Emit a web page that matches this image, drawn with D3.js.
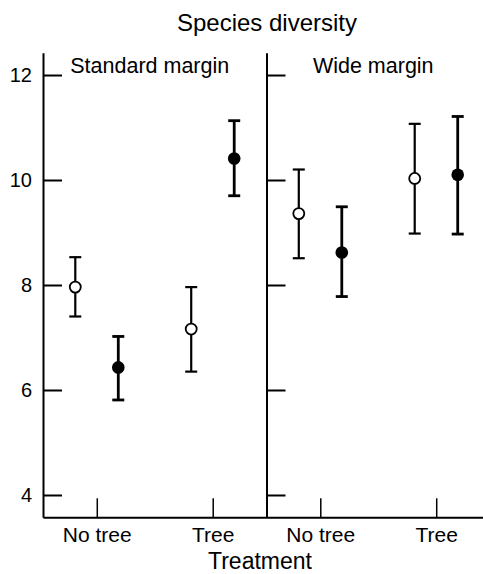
<!DOCTYPE html>
<html>
<head>
<meta charset="utf-8">
<script src="https://cdn.jsdelivr.net/npm/d3@7"></script>
<style>
  body { margin: 0; background: #fff; }
  svg { display: block; font-family: "Liberation Sans", Arial, sans-serif; }
</style>
</head>
<body>
<div id="chart"></div>
<script>
// panels, treatments and the two point series (open / filled circles)
const panels = ["Standard margin", "Wide margin"];
const treatments = ["No tree", "Tree"];
const series = ["open", "filled"];
const yTicks = [4, 6, 8, 10, 12];

// values listed panel by panel: [Std No tree, Std Tree, Wide No tree, Wide Tree]
const openMean = [7.96, 7.16, 9.36, 10.03];
const openLow = [7.40, 6.35, 8.51, 8.98];
const openHigh = [8.53, 7.96, 10.20, 11.07];

const filledMean = [6.43, 10.41, 8.62, 10.10];
const filledLow = [5.81, 9.70, 7.78, 8.97];
const filledHigh = [7.02, 11.13, 9.49, 11.21];

const width = 483;
const height = 574;
const margin = { top: 52.7, right: -7, bottom: 56.7, left: 43 };
const plotW = width - margin.left - margin.right;
const plotH = height - margin.top - margin.bottom;

const svg = d3.select("#chart")
    .append("svg")
    .attr("width", width)
    .attr("height", height);

const graph = svg.append("g")
    .attr("transform", `translate(${margin.left}, ${margin.top})`);

// scales
const y = d3.scaleLinear()
    .domain([3.575, 12.425])
    .range([plotH, 0]);

const panelX = d3.scaleBand()
    .domain(panels)
    .range([0, plotW]);

const treatX = d3.scalePoint()
    .domain(treatments)
    .range([0, panelX.bandwidth()])
    .padding(0.464);

const seriesX = d3.scalePoint()
    .domain(series)
    .range([-21.5, 21.5]);

// build rows from the arrays
const rows = [];
panels.forEach((p, pi) => {
    treatments.forEach((t, ti) => {
        const i = pi * treatments.length + ti;
        rows.push({ panel: p, treat: t, s: "open", mean: openMean[i], lo: openLow[i], hi: openHigh[i] });
        rows.push({ panel: p, treat: t, s: "filled", mean: filledMean[i], lo: filledLow[i], hi: filledHigh[i] });
    });
});

// title
svg.append("text")
    .attr("x", 267)
    .attr("y", 31)
    .attr("text-anchor", "middle")
    .attr("font-size", 24)
    .text("Species diversity");

// x axis title
svg.append("text")
    .attr("x", 260)
    .attr("y", 569)
    .attr("text-anchor", "middle")
    .attr("font-size", 23)
    .text("Treatment");

panels.forEach((p, pi) => {
    const pg = graph.append("g")
        .attr("transform", `translate(${panelX(p)}, 0)`);

    // y axis, ticks pointing into the panel
    const yAxis = d3.axisLeft(y)
        .tickValues(yTicks)
        .tickSizeInner(-19)
        .tickSizeOuter(0)
        .tickPadding(11)
        .tickFormat(pi === 0 ? d3.format("d") : "");

    const yAxisGroup = pg.append("g").call(yAxis);
    yAxisGroup.select("path.domain").attr("stroke-width", 2);
    yAxisGroup.selectAll("line").attr("stroke-width", 2);
    yAxisGroup.selectAll("text")
        .attr("font-size", 20)
        .attr("font-family", null)
        .attr("fill", "#000");

    // x axis, ticks pointing up
    const xAxis = d3.axisBottom(treatX)
        .tickSizeInner(-19)
        .tickSizeOuter(0)
        .tickPadding(9.5);

    const xAxisGroup = pg.append("g")
        .attr("transform", `translate(0, ${plotH})`)
        .call(xAxis);
    xAxisGroup.select("path.domain").attr("stroke-width", 2);
    xAxisGroup.selectAll("line").attr("stroke-width", 1.5);
    xAxisGroup.selectAll("text")
        .attr("font-size", 21)
        .attr("font-family", null)
        .attr("fill", "#000");

    // panel label
    pg.append("text")
        .attr("x", panelX.bandwidth() / 2 - 5)
        .attr("y", 73.5 - margin.top)
        .attr("text-anchor", "middle")
        .attr("font-size", 21.5)
        .text(p);

    const data = rows.filter(d => d.panel === p);
    const cx = d => treatX(d.treat) + seriesX(d.s);
    const sw = d => d.s === "open" ? 2.2 : 2.8;

    // error bars
    const bars = pg.selectAll("g.err")
        .data(data)
        .enter()
        .append("g")
        .attr("class", "err")
        .attr("stroke", "#000")
        .attr("stroke-width", sw);

    bars.append("line")
        .attr("x1", cx).attr("x2", cx)
        .attr("y1", d => y(d.lo)).attr("y2", d => y(d.hi));

    bars.append("line")
        .attr("x1", d => cx(d) - 6).attr("x2", d => cx(d) + 6)
        .attr("y1", d => y(d.hi)).attr("y2", d => y(d.hi));

    bars.append("line")
        .attr("x1", d => cx(d) - 6).attr("x2", d => cx(d) + 6)
        .attr("y1", d => y(d.lo)).attr("y2", d => y(d.lo));

    // points
    pg.selectAll("circle")
        .data(data)
        .enter()
        .append("circle")
        .attr("cx", cx)
        .attr("cy", d => y(d.mean))
        .attr("r", d => d.s === "open" ? 5.5 : 6.3)
        .attr("fill", d => d.s === "open" ? "#fff" : "#000")
        .attr("stroke", "#000")
        .attr("stroke-width", d => d.s === "open" ? 1.8 : 0);
});
</script>
</body>
</html>
